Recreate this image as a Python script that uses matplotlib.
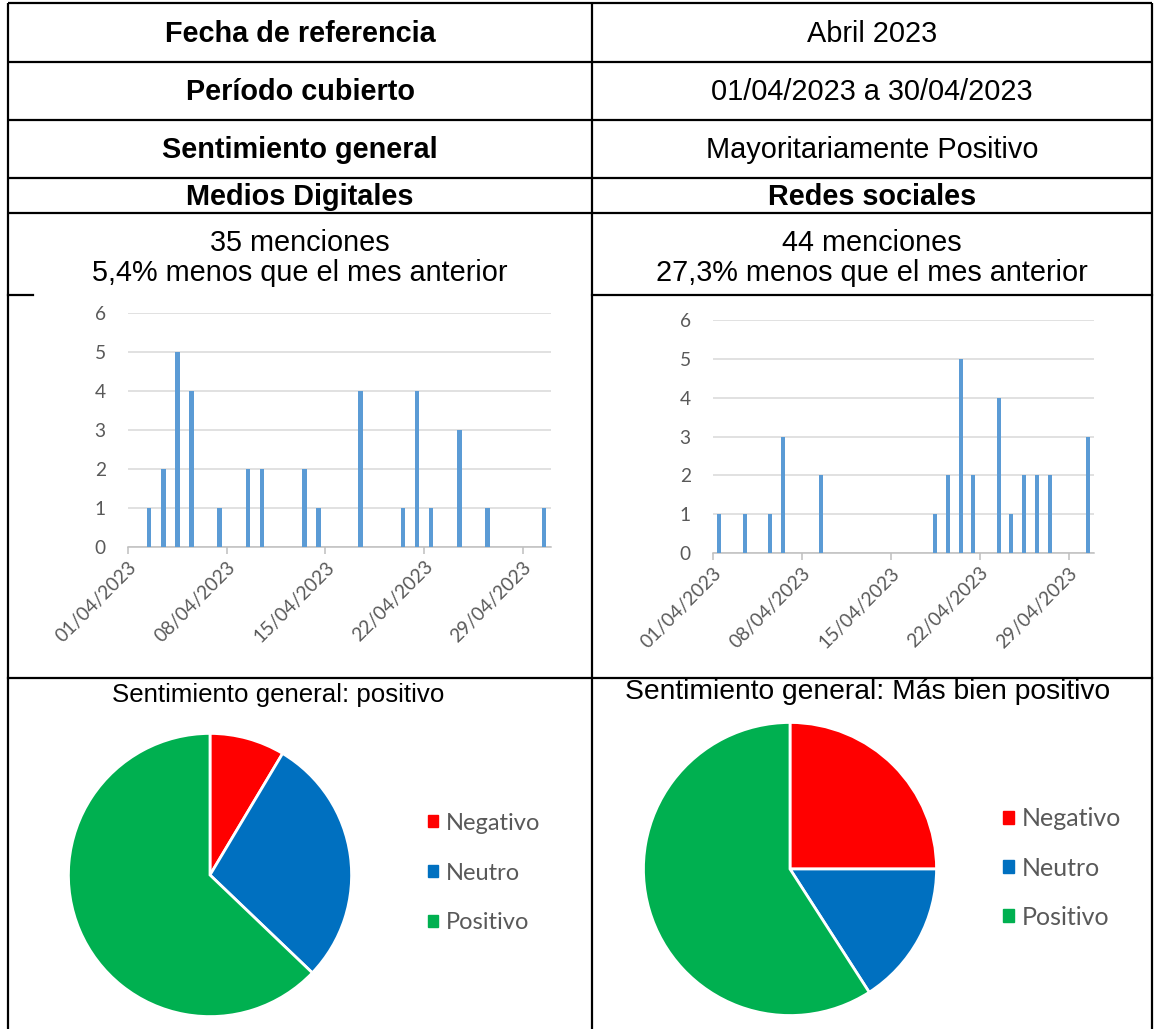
import matplotlib.pyplot as plt
from matplotlib.patches import Patch

W, H = 1155, 1029

# table text
filas_izq = ["Fecha de referencia", "Período cubierto", "Sentimiento general"]
filas_der = ["Abril 2023", "01/04/2023 a 30/04/2023", "Mayoritariamente Positivo"]
fuentes = ["Medios Digitales", "Redes sociales"]
menciones = ["35 menciones\n5,4% menos que el mes anterior",
             "44 menciones\n27,3% menos que el mes anterior"]

# daily mentions (day of April, count)
dias_medios = [2, 3, 4, 5, 7, 9, 10, 13, 14, 17, 20, 21, 22, 24, 26, 30]
valores_medios = [1, 2, 5, 4, 1, 2, 2, 2, 1, 4, 1, 4, 1, 3, 1, 1]
dias_redes = [1, 3, 5, 6, 9, 18, 19, 20, 21, 23, 24, 25, 26, 27, 30]
valores_redes = [1, 1, 1, 3, 2, 1, 2, 5, 2, 4, 1, 2, 2, 2, 3]
fechas_ticks = [1, 8, 15, 22, 29]
fechas_labels = ["01/04/2023", "08/04/2023", "15/04/2023", "22/04/2023", "29/04/2023"]

# sentiment
sentimientos = ["Negativo", "Neutro", "Positivo"]
sent_medios = [3, 10, 22]
sent_redes = [11, 7, 26]
colores_sent = ["#FF0000", "#0070C0", "#00B050"]
titulos_pie = ["Sentimiento general: positivo", "Sentimiento general: Más bien positivo"]


def rect(x0, y0, x1, y1):
    return [x0 / W, 1 - y1 / H, (x1 - x0) / W, (y1 - y0) / H]


fig = plt.figure(figsize=(W / 100, H / 100), dpi=100)
fig.patch.set_facecolor("white")

# background axes in pixel coordinates for the table
bg = fig.add_axes([0, 0, 1, 1])
bg.set_xlim(0, W)
bg.set_ylim(H, 0)
bg.axis("off")

xl, xm, xr = 8, 592, 1152
lw = 1.6
rows = [3, 62, 120, 178, 213]
for y in rows:
    bg.plot([xl, xr], [y, y], color="black", lw=lw, solid_capstyle="butt")
bg.plot([xl, 33], [295, 295], color="black", lw=lw)
bg.plot([xm, xr], [295, 295], color="black", lw=lw)
bg.plot([xl, xr], [678, 678], color="black", lw=lw)
for x in [xl, xm, xr]:
    bg.plot([x, x], [3, H], color="black", lw=lw, solid_capstyle="butt")

tfont = "Liberation Sans"
fs_t = 20.8
cx_l, cx_r = (xl + xm) / 2, (xm + xr) / 2
for i in range(3):
    yc = (rows[i] + rows[i + 1]) / 2 + 1
    bg.text(cx_l, yc, filas_izq[i], ha="center", va="center", fontsize=fs_t,
            fontweight="bold", family=tfont)
    bg.text(cx_r, yc, filas_der[i], ha="center", va="center", fontsize=fs_t,
            family=tfont)
for cx, s in zip([cx_l, cx_r], fuentes):
    bg.text(cx, 197, s, ha="center", va="center", fontsize=fs_t,
            fontweight="bold", family=tfont)
for cx, s in zip([cx_l, cx_r], menciones):
    bg.text(cx, 258, s, ha="center", va="center", fontsize=fs_t,
            family=tfont, linespacing=1.1)


def barras(r, dias, vals):
    ax = fig.add_axes(r)
    ax.bar(dias, vals, width=0.32, color="#5B9BD5", zorder=3)
    ax.set_xlim(0.5, 30.5)
    ax.set_ylim(0, 6)
    ax.set_yticks(range(7))
    ax.yaxis.grid(True, color="#D9D9D9", lw=1.1, zorder=0)
    for s in ["top", "right", "left"]:
        ax.spines[s].set_visible(False)
    ax.spines["bottom"].set_color("#BFBFBF")
    ax.spines["bottom"].set_linewidth(1.1)
    ax.set_xticks([t - 0.5 for t in fechas_ticks])
    ax.set_xticklabels(fechas_labels, rotation=45, ha="right", va="top",
                       rotation_mode="anchor")
    ax.tick_params(axis="x", color="#BFBFBF", length=5, width=1.1,
                   labelsize=13.8, labelcolor="#595959", pad=3)
    ax.tick_params(axis="y", length=0, labelsize=13.8, labelcolor="#595959", pad=16)
    for lab in ax.get_xticklabels() + ax.get_yticklabels():
        lab.set_family("Lato")
    return ax


barras(rect(128, 313, 551, 547), dias_medios, valores_medios)
barras(rect(713, 320, 1094, 553), dias_redes, valores_redes)


def torta(r, vals, titulo, tx, ty, tfs, leg_xy, fs, sp):
    ax = fig.add_axes(r)
    ax.pie(vals, colors=colores_sent, startangle=90, counterclock=False,
           wedgeprops=dict(edgecolor="white", linewidth=2))
    ax.set_xlim(-1.01, 1.01)
    ax.set_ylim(-1.01, 1.01)
    ax.set_aspect("equal")
    bg.text(tx, ty, titulo, ha="center", va="center", fontsize=tfs, family=tfont)
    handles = [Patch(color=c) for c in colores_sent]
    leg = fig.legend(handles, sentimientos, loc="center left",
                     bbox_to_anchor=(leg_xy[0] / W, 1 - leg_xy[1] / H),
                     frameon=False, handlelength=0.42, handleheight=0.42,
                     handletextpad=0.35, labelspacing=sp, borderpad=0,
                     borderaxespad=0, prop={"family": "Lato", "size": fs})
    for t in leg.get_texts():
        t.set_color("#595959")


torta(rect(67, 732, 353, 1018), sent_medios, titulos_pie[0], 278, 695, 18.6,
      (428, 873), 17, 1.22)
torta(rect(642, 721, 938, 1017), sent_redes, titulos_pie[1], 868, 692, 20.3,
      (1003, 868), 18, 1.05)

fig.savefig("out.png", dpi=100, facecolor="white")
